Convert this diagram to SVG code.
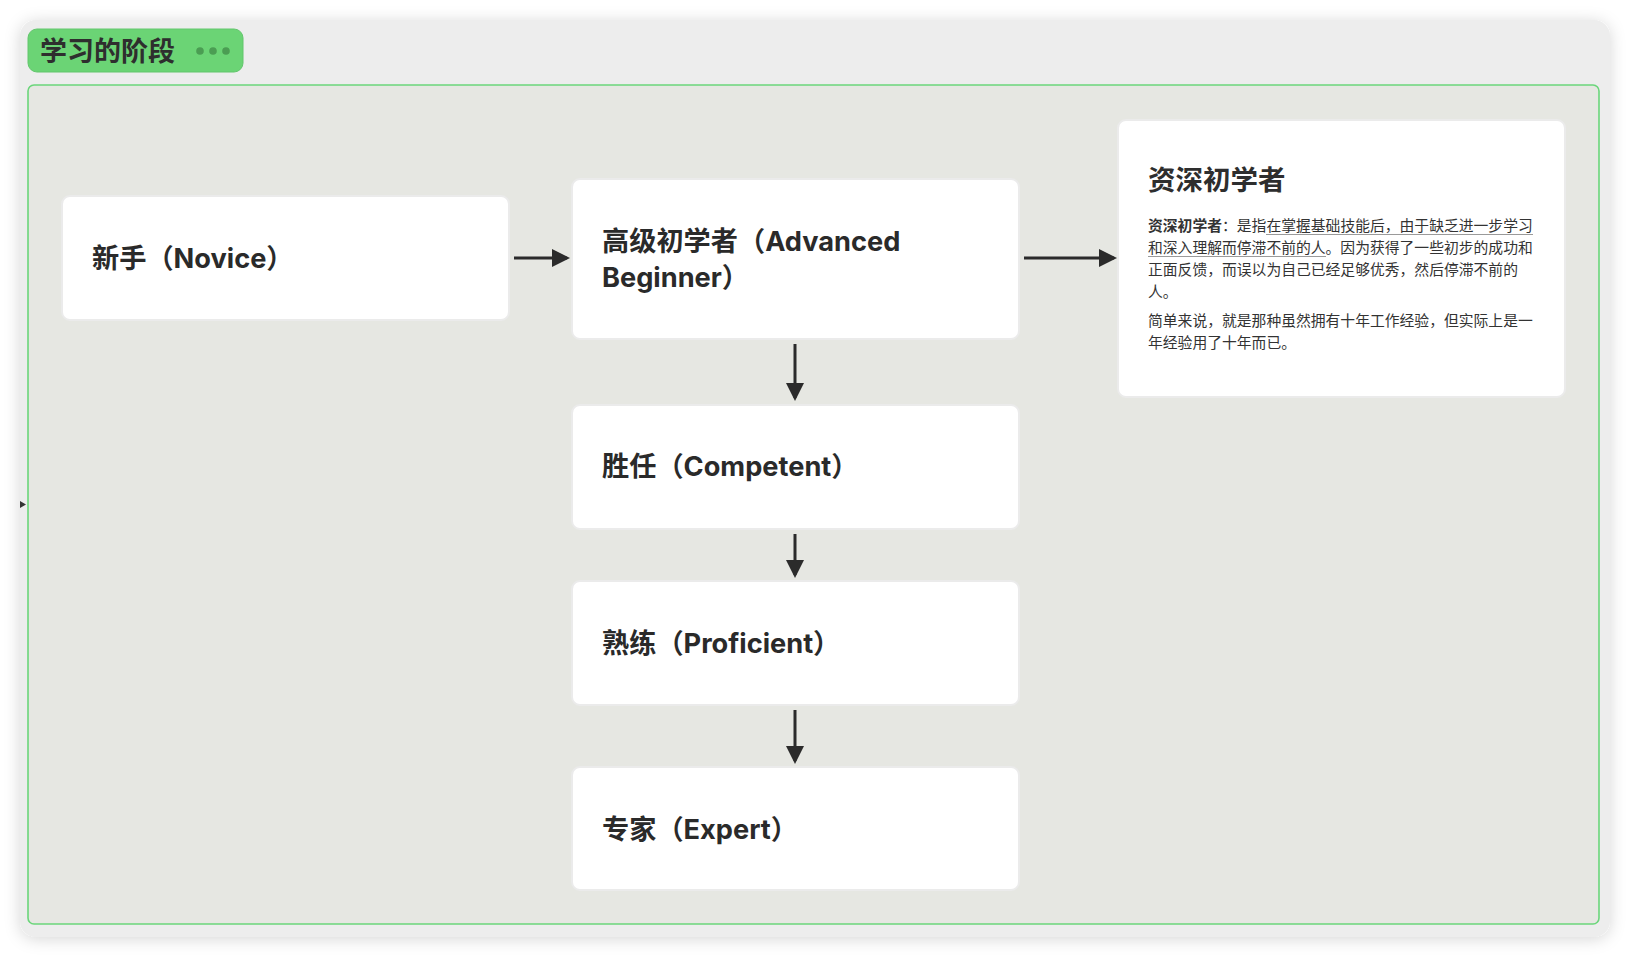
<svg xmlns="http://www.w3.org/2000/svg" width="1630" height="958" viewBox="0 0 1630 958">
<defs>
<filter id="sh" x="-5%" y="-5%" width="110%" height="110%">
<feDropShadow dx="0" dy="2" stdDeviation="8" flood-color="#000" flood-opacity="0.16"/>
</filter>
<marker id="ah" markerUnits="userSpaceOnUse" markerWidth="18" markerHeight="18" refX="15" refY="9" orient="auto">
<path d="M0,0 L18,9 L0,18 z" fill="#2b2b2b"/>
</marker>
<style>
.node{fill:#fff;stroke:#ebebeb;stroke-width:2}
.lbl{font-family:"Inter","Noto Sans CJK SC",sans-serif;font-weight:700;font-size:27.2px;fill:#2a2a2a}
.body{font-family:"Noto Sans CJK SC",sans-serif;font-size:14.8px;fill:#333}
.conn{stroke:#2b2b2b;stroke-width:3;fill:none;marker-end:url(#ah)}
.ul{stroke:#9a9a9a;stroke-width:1}
</style>
</defs>
<rect x="0" y="0" width="1630" height="958" fill="#ffffff"/>
<rect x="20" y="20" width="1590" height="917" rx="16" fill="#ededed" filter="url(#sh)"/>
<g id="frame">
<rect x="28" y="85" width="1571" height="839" rx="6" fill="#e6e7e2" stroke="#6bd67b" stroke-width="1.6"/>
</g>
<g id="badge">
<rect x="28" y="29" width="215" height="43" rx="9" fill="#6bd475" stroke="#63c66d" stroke-width="1"/>
<text x="40" y="61" style="font-family:'Noto Sans CJK SC',sans-serif;font-weight:700;font-size:27px;fill:#2e2e2e">学习的阶段</text>
<circle cx="200" cy="51" r="3.8" fill="#4b9d53"/>
<circle cx="213" cy="51" r="3.8" fill="#4b9d53"/>
<circle cx="226" cy="51" r="3.8" fill="#4b9d53"/>
</g>
<polygon points="20,501 26,504.5 20,508" fill="#333"/>
<g id="connectors">
<path class="conn" d="M514,258 L567,258"/>
<path class="conn" d="M1024,258 L1114,258"/>
<path class="conn" d="M795,344 L795,398"/>
<path class="conn" d="M795,534 L795,575"/>
<path class="conn" d="M795,710 L795,761"/>
</g>
<g id="novice">
<rect class="node" x="62" y="196" width="447" height="124" rx="8"/>
<text class="lbl" x="92" y="268">新手（Novice）</text>
</g>
<g id="advanced">
<rect class="node" x="572" y="179" width="447" height="160" rx="8"/>
<text class="lbl" x="602" y="251">高级初学者（Advanced</text>
<text class="lbl" x="602" y="287">Beginner）</text>
</g>
<g id="competent">
<rect class="node" x="572" y="405" width="447" height="124" rx="8"/>
<text class="lbl" x="602" y="476">胜任（Competent）</text>
</g>
<g id="proficient">
<rect class="node" x="572" y="581" width="447" height="124" rx="8"/>
<text class="lbl" x="602" y="653">熟练（Proficient）</text>
</g>
<g id="expert">
<rect class="node" x="572" y="767" width="447" height="123" rx="8"/>
<text class="lbl" x="602" y="839">专家（Expert）</text>
</g>
<g id="senior">
<rect class="node" x="1118" y="120" width="447" height="277" rx="8"/>
<text x="1148" y="190" style="font-family:'Noto Sans CJK SC',sans-serif;font-weight:700;font-size:27.5px;fill:#2e2e2e">资深初学者</text>
<text class="body" x="1148" y="231"><tspan font-weight="700">资深初学者</tspan>：是指在掌握基础技能后，由于缺乏进一步学习</text>
<text class="body" x="1148" y="253">和深入理解而停滞不前的人。因为获得了一些初步的成功和</text>
<text class="body" x="1148" y="275">正面反馈，而误以为自己已经足够优秀，然后停滞不前的</text>
<text class="body" x="1148" y="297">人。</text>
<text class="body" x="1148" y="326">简单来说，就是那种虽然拥有十年工作经验，但实际上是一</text>
<text class="body" x="1148" y="348">年经验用了十年而已。</text>
<line class="ul" x1="1266" y1="234.5" x2="1533" y2="234.5"/>
<line class="ul" x1="1148" y1="256.5" x2="1326" y2="256.5"/>
</g>
</svg>
